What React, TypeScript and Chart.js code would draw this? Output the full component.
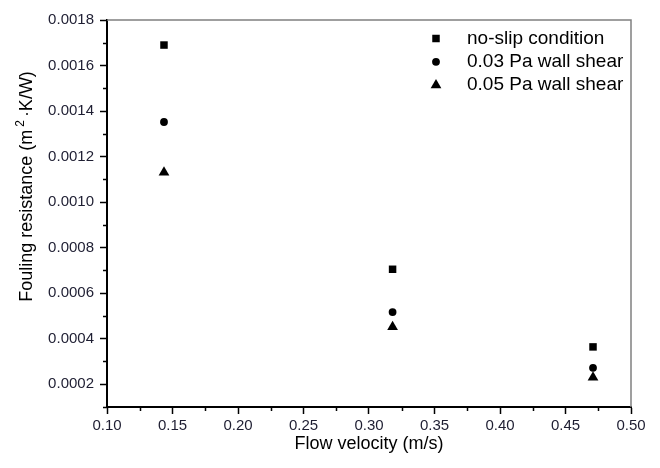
import React, { useEffect, useRef } from "react";
import { Chart, registerables } from "chart.js";
import { drawPoint } from "chart.js/helpers";

Chart.register(...registerables);

// ---- data ----
const flowVelocity = [0.1435, 0.318, 0.471];
const noSlip = [0.00169, 0.000705, 0.000364];
const shear003 = [0.001352, 0.000517, 0.000272];
const shear005 = [0.00113, 0.000452, 0.00023];

const seriesNames = ["no-slip condition", "0.03 Pa wall shear", "0.05 Pa wall shear"];

const xTicks = [0.1, 0.15, 0.2, 0.25, 0.3, 0.35, 0.4, 0.45, 0.5];
const xMinorTicks = [0.125, 0.175, 0.225, 0.275, 0.325, 0.375, 0.425, 0.475];
const yTicks = [0.0002, 0.0004, 0.0006, 0.0008, 0.001, 0.0012, 0.0014, 0.0016, 0.0018];
const yMinorTicks = [0.0001, 0.0003, 0.0005, 0.0007, 0.0009, 0.0011, 0.0013, 0.0015, 0.0017];

const xTitle = "Flow velocity (m/s)";
const yTitleParts = ["Fouling resistance (m", "2", "\u00B7K/W)"];

const FONT = "'Liberation Sans', Arial, sans-serif";

const framePlugin = {
  id: "frame",
  afterDraw(chart: any) {
    const { ctx, chartArea } = chart;
    const { left, right, top, bottom } = chartArea;
    const xs = chart.scales.x;
    const ys = chart.scales.y;
    ctx.save();
    // top and right frame
    ctx.strokeStyle = "#808080";
    ctx.lineWidth = 1.5;
    ctx.beginPath();
    ctx.moveTo(left, top);
    ctx.lineTo(right, top);
    ctx.lineTo(right, bottom);
    ctx.stroke();
    // minor ticks
    ctx.strokeStyle = "#000";
    ctx.lineWidth = 1.5;
    ctx.beginPath();
    xMinorTicks.forEach((v) => {
      const px = Math.round(xs.getPixelForValue(v)) + 0.5;
      ctx.moveTo(px, bottom);
      ctx.lineTo(px, bottom + 4);
    });
    yMinorTicks.forEach((v) => {
      const py = Math.round(ys.getPixelForValue(v)) + 0.5;
      ctx.moveTo(left, py);
      ctx.lineTo(left - 4, py);
    });
    ctx.stroke();

    // legend
    const mx = right - 195;
    const tx = right - 164;
    chart.data.datasets.forEach((ds: any, i: number) => {
      const y = top + 18.5 + i * 23.3;
      ctx.fillStyle = "#000";
      ctx.strokeStyle = "#000";
      drawPoint(ctx, { pointStyle: ds.pointStyle, radius: ds.pointRadius, rotation: 0, borderWidth: 0 } as any, mx, y);
      ctx.font = `19px ${FONT}`;
      ctx.textBaseline = "middle";
      ctx.textAlign = "left";
      ctx.fillStyle = "#000";
      ctx.fillText(ds.label, tx, y);
    });

    // y title (rotated, with superscript)
    ctx.translate(32, (top + bottom) / 2 - 27);
    ctx.rotate(-Math.PI / 2);
    ctx.textBaseline = "alphabetic";
    ctx.textAlign = "left";
    ctx.font = `18px ${FONT}`;
    const w0 = ctx.measureText(yTitleParts[0]).width;
    ctx.font = `12px ${FONT}`;
    const w1 = ctx.measureText(yTitleParts[1]).width;
    ctx.font = `18px ${FONT}`;
    const w2 = ctx.measureText(yTitleParts[2]).width;
    const total = w0 + 3 + w1 + 3 + w2;
    let cx = -total / 2;
    ctx.fillStyle = "#000";
    ctx.fillText(yTitleParts[0], cx, 0);
    cx += w0 + 3;
    ctx.font = `12px ${FONT}`;
    ctx.fillText(yTitleParts[1], cx, -8);
    cx += w1 + 3;
    ctx.font = `18px ${FONT}`;
    ctx.fillText(yTitleParts[2], cx, 0);
    ctx.restore();
  },
};

export default function App() {
  const ref = useRef<HTMLCanvasElement>(null);
  useEffect(() => {
    if (!ref.current) return;
    const mk = (arr: number[]) => flowVelocity.map((x, i) => ({ x, y: arr[i] }));
    const chart = new Chart(ref.current, {
      type: "scatter",
      data: {
        datasets: [
          { label: seriesNames[0], data: mk(noSlip), pointStyle: "rect", pointRadius: 5.3, backgroundColor: "#000", borderColor: "#000", borderWidth: 0 },
          { label: seriesNames[1], data: mk(shear003), pointStyle: "circle", pointRadius: 3.9, backgroundColor: "#000", borderColor: "#000", borderWidth: 0 },
          { label: seriesNames[2], data: mk(shear005), pointStyle: "triangle", pointRadius: 6.2, backgroundColor: "#000", borderColor: "#000", borderWidth: 0 },
        ] as any,
      },
      options: {
        responsive: false,
        animation: false,
        clip: false as any,
        layout: { padding: { top: 20, right: 29, left: 0, bottom: 0 } },
        plugins: { legend: { display: false }, tooltip: { enabled: false } },
        scales: {
          x: {
            type: "linear",
            min: 0.1,
            max: 0.5,
            afterBuildTicks: (s: any) => {
              s.ticks = xTicks.map((v) => ({ value: v }));
            },
            afterFit: (s: any) => {
              s.height = 61;
            },
            ticks: {
              callback: (v: any) => Number(v).toFixed(2),
              font: { family: FONT, size: 15 },
              color: "#1e1e32",
              padding: 3,
              maxRotation: 0,
              autoSkip: false,
            },
            grid: { display: true, drawOnChartArea: false, drawTicks: true, tickLength: 7, tickWidth: 1.5, tickColor: "#000" },
            border: { display: true, color: "#000", width: 2 },
            title: { display: true, text: xTitle, font: { family: FONT, size: 18 }, color: "#000", padding: { top: 4, bottom: 13 } },
          },
          y: {
            type: "linear",
            min: 0.0001,
            max: 0.0018,
            afterBuildTicks: (s: any) => {
              s.ticks = yTicks.map((v) => ({ value: v }));
            },
            afterFit: (s: any) => {
              s.width = 107;
            },
            ticks: {
              callback: (v: any) => Number(v).toFixed(4),
              font: { family: FONT, size: 15 },
              color: "#1e1e32",
              padding: 6,
              autoSkip: false,
            },
            grid: { display: true, drawOnChartArea: false, drawTicks: true, tickLength: 7, tickWidth: 1.5, tickColor: "#000" },
            border: { display: true, color: "#000", width: 2 },
            title: { display: false },
          },
        },
      },
      plugins: [framePlugin],
    });
    return () => chart.destroy();
  }, []);
  return (
    <div style={{ position: "absolute", left: 0, top: 0, width: 660, height: 468, background: "#fff" }}>
      <canvas ref={ref} width={660} height={468} />
    </div>
  );
}
